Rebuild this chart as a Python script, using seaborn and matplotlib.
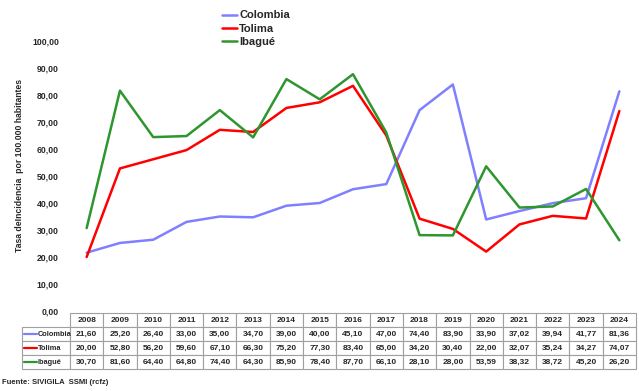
import numpy as np
import pandas as pd
import seaborn as sns
import matplotlib.pyplot as plt
from matplotlib.lines import Line2D

# =========================================================
# DATA
# =========================================================

years = [2008, 2009, 2010, 2011, 2012, 2013, 2014, 2015, 2016,
         2017, 2018, 2019, 2020, 2021, 2022, 2023, 2024]

colombia = [21.60, 25.20, 26.40, 33.00, 35.00, 34.70, 39.00, 40.00, 45.10,
            47.00, 74.40, 83.90, 33.90, 37.02, 39.94, 41.77, 81.36]
tolima = [20.00, 52.80, 56.20, 59.60, 67.10, 66.30, 75.20, 77.30, 83.40,
          65.00, 34.20, 30.40, 22.00, 32.07, 35.24, 34.27, 74.07]
ibague = [30.70, 81.60, 64.40, 64.80, 74.40, 64.30, 85.90, 78.40, 87.70,
          66.10, 28.10, 28.00, 53.59, 38.32, 38.72, 45.20, 26.20]

series_names = ["Colombia", "Tolima", "Ibagué"]
colors = {"Colombia": "#8080ff", "Tolima": "#ff0000", "Ibagué": "#2e962e"}

ylabel = "Tasa deIncidencia  por 100.000 habitantes"
source = "Fuente: SIVIGILA  SSMI (rcfz)"

def fmt(v):
    return f"{v:.2f}".replace(".", ",")

df = pd.DataFrame({
    "year": years * 3,
    "value": colombia + tolima + ibague,
    "serie": ["Colombia"] * 17 + ["Tolima"] * 17 + ["Ibagué"] * 17,
})
df["pos"] = df["year"].map({y: i for i, y in enumerate(years)})

# =========================================================
# PLOT
# =========================================================

sns.set_style("white")
plt.rcParams["font.family"] = ["Liberation Sans", "DejaVu Sans"]

fig = plt.figure(figsize=(6.39, 3.91), dpi=100)
W, H = 639, 391
x0, x1, ytop, ybot = 70, 636, 41, 311
ax = fig.add_axes([x0 / W, 1 - ybot / H, (x1 - x0) / W, (ybot - ytop) / H])

sns.lineplot(data=df, x="pos", y="value", hue="serie", hue_order=series_names,
             palette=colors, linewidth=1.8, legend=False, ax=ax)

ax.set_xlim(-0.5, len(years) - 0.5)
ax.set_ylim(0, 100)
ax.set_yticks(np.arange(0, 101, 10))
ax.set_yticklabels([fmt(v) for v in np.arange(0, 101, 10)],
                   fontsize=6.2, fontweight="bold")
ax.tick_params(axis="y", length=0, pad=8)
ax.set_xticks([])
ax.set_xlabel("")
ax.set_ylabel("")
for s in ax.spines.values():
    s.set_visible(False)

fig.text(20 / W, 1 - 165 / H, ylabel, rotation=90, ha="center", va="center",
         fontsize=6.2, fontweight="bold")

# data table
rows = [[""] + [str(y) for y in years]]
for vals in [colombia, tolima, ibague]:
    rows.append([""] + [fmt(v) for v in vals])

axw = x1 - x0
axh = ybot - ytop
tx0, tx1, tt, tb = 22, 636, 313, 369
label_w = (x0 - tx0) / (tx1 - tx0)
col_w = (1 - label_w) / len(years)
tbl = ax.table(cellText=rows, cellLoc="center",
               colWidths=[label_w] + [col_w] * len(years),
               bbox=[(tx0 - x0) / axw, (ybot - tb) / axh,
                     (tx1 - tx0) / axw, (tb - tt) / axh])
tbl.auto_set_font_size(False)
for (r, c), cell in tbl.get_celld().items():
    cell.set_edgecolor("#a0a0a0")
    cell.set_linewidth(0.8)
    cell.get_text().set_fontsize(6.0)
    cell.get_text().set_fontweight("bold")
    if r == 0 and c == 0:
        cell.set_edgecolor("white")

# legend keys and names inside the table label column
for i, name in enumerate(series_names):
    yc = tt + 14 * (i + 1) + 7
    fig.add_artist(Line2D([24 / W, 37 / W], [1 - yc / H, 1 - yc / H],
                          color=colors[name], linewidth=1.6))
    fig.text(37.5 / W, 1 - yc / H, name, fontsize=5.3, fontweight="bold",
             va="center", ha="left")

# top legend
handles = [Line2D([0], [0], color=colors[n], linewidth=1.8) for n in series_names]
fig.legend(handles, series_names, loc="upper left",
           bbox_to_anchor=(218 / W, 1 - 6 / H), frameon=False,
           prop={"size": 8, "weight": "bold"}, handlelength=1.3,
           handletextpad=0.2, labelspacing=0.3, borderaxespad=0)

fig.text(2 / W, 1 - 383 / H, source, fontsize=5.5, fontweight="bold",
         va="center")

plt.savefig("out.png", dpi=100)
